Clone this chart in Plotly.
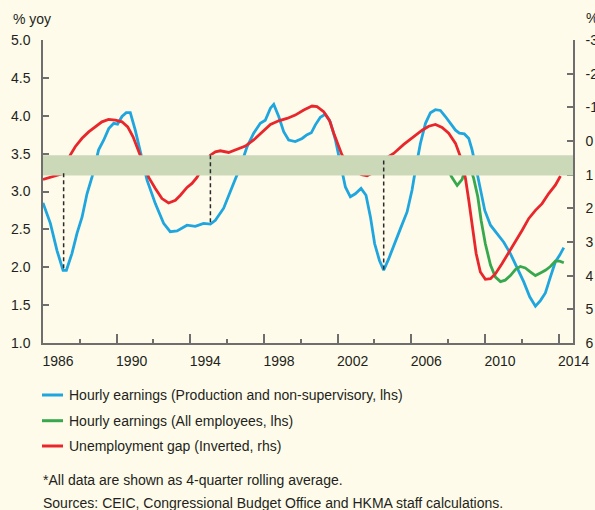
import numpy as np
import plotly.graph_objects as go

# ---------------- data ----------------
blue_years = [1986.0, 1986.4, 1986.76, 1987.09, 1987.27, 1987.57, 1987.85, 1988.12, 1988.39, 1988.66,
              1989.02, 1989.3, 1989.57, 1989.84, 1990.05, 1990.29, 1990.52, 1990.74, 1991.01, 1991.28,
              1991.65, 1992.1, 1992.55, 1992.91, 1993.28, 1993.82, 1994.27, 1994.72, 1995.09, 1995.36,
              1995.63, 1995.81, 1996.27, 1996.72, 1997.08, 1997.44, 1997.8, 1998.07, 1998.35, 1998.53,
              1998.8, 1999.07, 1999.34, 1999.7, 2000.07, 2000.34, 2000.57, 2000.79, 2001.06, 2001.33,
              2001.6, 2001.88, 2002.15, 2002.42, 2002.69, 2002.96, 2003.27, 2003.54, 2003.78, 2004.01,
              2004.27, 2004.5, 2004.77, 2005.14, 2005.41, 2005.77, 2006.04, 2006.22, 2006.49, 2006.77,
              2007.04, 2007.31, 2007.58, 2007.85, 2008.12, 2008.4, 2008.61, 2008.88, 2009.12, 2009.3,
              2009.54, 2009.75, 2009.99, 2010.3, 2010.66, 2011.02, 2011.38, 2011.75, 2012.1, 2012.43,
              2012.74, 2013.01, 2013.28, 2013.55, 2013.82, 2014.06, 2014.28]
blue_values = [2.85, 2.58, 2.22, 1.96, 1.96, 2.18, 2.45, 2.66, 2.97, 3.19,
               3.55, 3.68, 3.83, 3.90, 3.89, 3.99, 4.04, 4.04, 3.81, 3.52,
               3.15, 2.84, 2.58, 2.47, 2.48, 2.555, 2.54, 2.58, 2.57, 2.62,
               2.72, 2.78, 3.06, 3.33, 3.59, 3.77, 3.90, 3.94, 4.10, 4.15,
               3.99, 3.79, 3.68, 3.66, 3.70, 3.75, 3.775, 3.88, 3.98, 4.02,
               3.92, 3.68, 3.37, 3.06, 2.93, 2.97, 3.04, 2.95, 2.665, 2.31,
               2.09, 1.96, 2.11, 2.35, 2.51, 2.73, 3.02, 3.28, 3.63, 3.90,
               4.04, 4.08, 4.07, 3.99, 3.90, 3.81, 3.77, 3.76, 3.70, 3.55,
               3.28, 3.02, 2.75, 2.555, 2.445, 2.33, 2.18, 2.00, 1.81, 1.61,
               1.485, 1.56, 1.66, 1.87, 2.07, 2.16, 2.26]

green_years = [2008.0, 2008.17, 2008.49, 2008.76, 2008.95, 2009.15, 2009.39, 2009.61, 2009.79, 2010.02,
               2010.3, 2010.57, 2010.84, 2011.1, 2011.38, 2011.65, 2011.92, 2012.19, 2012.46, 2012.74,
               2013.01, 2013.28, 2013.55, 2013.82, 2014.06, 2014.28]
green_values = [3.30, 3.20, 3.08, 3.16, 3.32, 3.36, 3.17, 2.93, 2.62, 2.31,
                2.03, 1.87, 1.81, 1.83, 1.89, 1.97, 2.01, 1.99, 1.94, 1.89,
                1.925, 1.96, 2.01, 2.08, 2.08, 2.06]

red_years = [1986.0, 1986.4, 1986.85, 1987.12, 1987.3, 1987.48, 1987.75, 1988.12, 1988.48, 1988.84,
             1989.2, 1989.56, 1989.93, 1990.29, 1990.6, 1990.89, 1991.14, 1991.4, 1991.55, 1991.74,
             1992.1, 1992.46, 1992.82, 1993.19, 1993.46, 1993.82, 1994.09, 1994.36, 1994.6, 1994.85,
             1995.09, 1995.36, 1995.63, 1996.08, 1996.54, 1996.99, 1997.44, 1997.9, 1998.35, 1998.8,
             1999.25, 1999.7, 2000.16, 2000.61, 2000.88, 2001.24, 2001.55, 2001.79, 2002.06, 2002.24,
             2002.6, 2003.0, 2003.3, 2003.6, 2003.9, 2004.2, 2004.5, 2004.8, 2005.04, 2005.59,
             2006.13, 2006.59, 2006.95, 2007.31, 2007.67, 2008.03, 2008.4, 2008.67, 2008.8, 2008.94,
             2009.12, 2009.3, 2009.52, 2009.75, 2010.02, 2010.3, 2010.57, 2010.93, 2011.29, 2011.65,
             2012.02, 2012.38, 2012.74, 2013.1, 2013.46, 2013.82, 2014.1]
red_values = [1.14, 1.08, 1.01, 0.96, 0.70, 0.42, 0.17, -0.08, -0.27, -0.42,
              -0.57, -0.64, -0.62, -0.57, -0.42, -0.125, 0.22, 0.60, 0.82, 1.08,
              1.41, 1.71, 1.84, 1.76, 1.61, 1.38, 1.26, 1.08, 0.85, 0.62,
              0.42, 0.32, 0.29, 0.34, 0.24, 0.15, -0.03, -0.27, -0.49, -0.60,
              -0.67, -0.77, -0.92, -1.04, -1.02, -0.87, -0.62, -0.23, 0.17, 0.42,
              0.70, 0.90, 1.00, 1.03, 0.95, 0.75, 0.58, 0.45, 0.37, 0.10,
              -0.125, -0.32, -0.44, -0.49, -0.40, -0.23, 0.07, 0.47, 0.78, 1.11,
              1.76, 2.55, 3.34, 3.89, 4.11, 4.09, 3.94, 3.64, 3.32, 3.00,
              2.65, 2.30, 2.06, 1.86, 1.56, 1.31, 1.04]

band_range = [3.21, 3.48]              # shaded band, lhs units
trough_years = [1987.12, 1995.09, 2004.5]  # dashed connectors

left_ticks = [1.0, 1.5, 2.0, 2.5, 3.0, 3.5, 4.0, 4.5, 5.0]
right_ticks = [-3, -2, -1, 0, 1, 2, 3, 4, 5, 6]
right_labels = ["-3", "-2", "-1", "0", "1", "2", "3", "4", "5", "6"]

series_names = ["Hourly earnings (Production and non-supervisory, lhs)",
                "Hourly earnings (All employees, lhs)",
                "Unemployment gap (Inverted, rhs)"]
note_text = "*All data are shown as 4-quarter rolling average."
source_text = "Sources: CEIC, Congressional Budget Office and HKMA staff calculations."

# ---------------- styling ----------------
BLUE = "#1FA6DF"
GREEN = "#38A84E"
RED = "#E8262B"
BAND = "#CBD9B8"
BG = "#FEFBEA"
AXIS = "#6E6E6E"
TEXT = "#231F20"
FONT = "Liberation Sans, Arial, sans-serif"

W, H = 595, 510
ML, MR, MT, MB = 43, 22, 40, 167
PW, PH = W - ML - MR, H - MT - MB
LEFT_RANGE = [1, 5]
RIGHT_RANGE = [6, -3]


def px_x(px):
    return (px - ML) / PW


def px_y(py):
    return (H - MB - py) / PH


fig = go.Figure()
fig.add_trace(go.Scatter(x=blue_years, y=blue_values, mode="lines",
                         line=dict(color=BLUE, width=2.8), name=series_names[0],
                         showlegend=False))
fig.add_trace(go.Scatter(x=green_years, y=green_values, mode="lines",
                         line=dict(color=GREEN, width=2.8), name=series_names[1],
                         showlegend=False))
fig.add_trace(go.Scatter(x=red_years, y=red_values, mode="lines", yaxis="y2",
                         line=dict(color=RED, width=2.8), name=series_names[2],
                         showlegend=False))

# shaded band above the lines
fig.add_shape(type="rect", xref="paper", yref="y", x0=0, x1=1,
              y0=band_range[0], y1=band_range[1], fillcolor=BAND,
              line=dict(width=0), layer="above")


# dashed connectors: from red line (mapped to lhs) down to blue trough
def right_to_left(r):
    frac = (r - RIGHT_RANGE[1]) / (RIGHT_RANGE[0] - RIGHT_RANGE[1])
    return LEFT_RANGE[1] - frac * (LEFT_RANGE[1] - LEFT_RANGE[0])


for ty in trough_years:
    top = right_to_left(float(np.interp(ty, red_years, red_values)))
    bot = float(np.interp(ty, blue_years, blue_values))
    fig.add_shape(type="line", xref="x", yref="y", x0=ty, x1=ty, y0=top, y1=bot,
                  line=dict(color="#2B2B2B", width=1.5, dash="4px,3px"), layer="above")

# manual legend
legend_rows = [395, 420.7, 446]
for name, color, py in zip(series_names, [BLUE, GREEN, RED], legend_rows):
    fig.add_shape(type="line", xref="paper", yref="paper",
                  x0=px_x(42), x1=px_x(63), y0=px_y(py), y1=px_y(py),
                  line=dict(color=color, width=3))
    fig.add_annotation(xref="paper", yref="paper", x=px_x(67), y=px_y(py),
                       text=name, showarrow=False, xanchor="left", yanchor="middle",
                       font=dict(family=FONT, size=14, color=TEXT))

fig.add_annotation(xref="paper", yref="paper", x=px_x(41), y=px_y(480),
                   text=note_text, showarrow=False, xanchor="left", yanchor="middle",
                   font=dict(family=FONT, size=14, color=TEXT))
fig.add_annotation(xref="paper", yref="paper", x=px_x(41), y=px_y(503),
                   text=source_text, showarrow=False, xanchor="left", yanchor="middle",
                   font=dict(family=FONT, size=14, color=TEXT))

# axis unit titles
fig.add_annotation(xref="paper", yref="paper", x=px_x(11), y=px_y(19),
                   text="% yoy", showarrow=False, xanchor="left", yanchor="middle",
                   font=dict(family=FONT, size=14, color=TEXT))
fig.add_annotation(xref="paper", yref="paper", x=px_x(584), y=px_y(18),
                   text="%", showarrow=False, xanchor="left", yanchor="middle",
                   font=dict(family=FONT, size=14, color=TEXT))

fig.update_layout(
    width=W, height=H,
    margin=dict(l=ML, r=MR, t=MT, b=MB, pad=0, autoexpand=False),
    paper_bgcolor=BG, plot_bgcolor=BG,
    font=dict(family=FONT, size=14, color=TEXT),
    showlegend=False,
    xaxis=dict(range=[1986, 2014.78], tick0=1986, dtick=4, tickformat="d",
               ticks="inside", ticklen=9, tickwidth=1.5, tickcolor=AXIS,
               showline=True, linecolor=AXIS, linewidth=1.5,
               showgrid=False, zeroline=False, automargin=False,
               ticklabelshift=15, ticklabelstandoff=4,
               tickfont=dict(family=FONT, size=14, color=TEXT),
               minor=dict(dtick=2, tick0=1986, ticks="inside", ticklen=4.5,
                          tickwidth=1.5, tickcolor=AXIS, showgrid=False)),
    yaxis=dict(range=LEFT_RANGE, tickvals=left_ticks, tickformat=".1f",
               ticks="inside", ticklen=6, tickwidth=1.5, tickcolor=AXIS,
               showline=True, linecolor=AXIS, linewidth=1.5, automargin=False,
               showgrid=False, zeroline=False, ticklabelstandoff=8,
               tickfont=dict(family=FONT, size=14, color=TEXT)),
    yaxis2=dict(range=RIGHT_RANGE, tickvals=right_ticks, ticktext=right_labels,
                overlaying="y", side="right", anchor="x",
                ticks="inside", ticklen=6, tickwidth=1.5, tickcolor=AXIS,
                showline=True, linecolor=AXIS, linewidth=1.5, automargin=False,
                showgrid=False, zeroline=False, ticklabelstandoff=8,
                tickfont=dict(family=FONT, size=14, color=TEXT)),
)

fig.write_html("out.html", config={"displayModeBar": False},
               post_script="document.body.style.margin='0';document.body.style.background='" + BG + "';")
